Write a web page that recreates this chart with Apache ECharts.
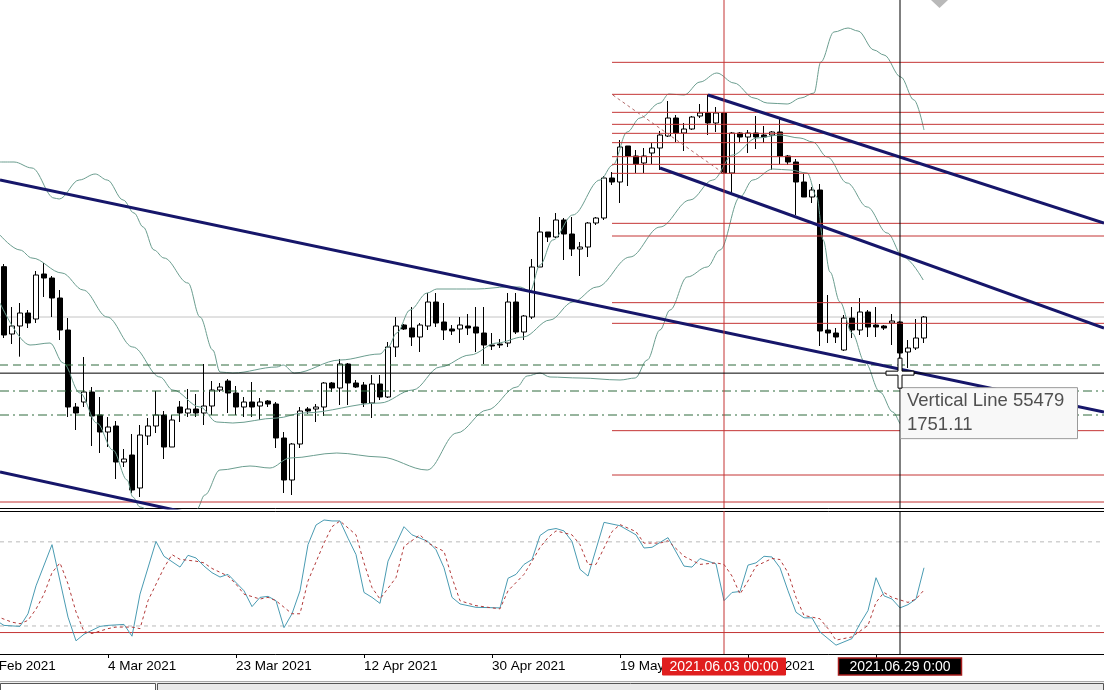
<!DOCTYPE html>
<html><head><meta charset="utf-8">
<script src="https://cdn.jsdelivr.net/npm/echarts@6/dist/echarts.min.js"></script>
<style>html,body{margin:0;padding:0;background:#fff;overflow:hidden}#chart{width:1104px;height:690px}</style>
</head><body><div id="chart"></div>
<script>
// ---------- DATA ----------
const dates = ['2021-02-17','2021-02-18','2021-02-19','2021-02-21','2021-02-22','2021-02-23','2021-02-24','2021-02-25','2021-02-26','2021-02-28',
'2021-03-01','2021-03-02','2021-03-03','2021-03-04','2021-03-05','2021-03-07','2021-03-08','2021-03-09','2021-03-10','2021-03-11','2021-03-12','2021-03-14','2021-03-15','2021-03-16','2021-03-17','2021-03-18','2021-03-19','2021-03-21','2021-03-22','2021-03-23','2021-03-24','2021-03-25','2021-03-26','2021-03-28','2021-03-29','2021-03-30','2021-03-31',
'2021-04-01','2021-04-04','2021-04-05','2021-04-06','2021-04-07','2021-04-08','2021-04-09','2021-04-11','2021-04-12','2021-04-13','2021-04-14','2021-04-15','2021-04-16','2021-04-18','2021-04-19','2021-04-20','2021-04-21','2021-04-22','2021-04-23','2021-04-25','2021-04-26','2021-04-27','2021-04-28','2021-04-29','2021-04-30',
'2021-05-02','2021-05-03','2021-05-04','2021-05-05','2021-05-06','2021-05-07','2021-05-09','2021-05-10','2021-05-11','2021-05-12','2021-05-13','2021-05-14','2021-05-16','2021-05-17','2021-05-18','2021-05-19','2021-05-20','2021-05-21','2021-05-23','2021-05-24','2021-05-25','2021-05-26','2021-05-27','2021-05-28','2021-05-30','2021-05-31',
'2021-06-01','2021-06-02','2021-06-03','2021-06-04','2021-06-06','2021-06-07','2021-06-08','2021-06-09','2021-06-10','2021-06-11','2021-06-13','2021-06-14','2021-06-15','2021-06-16','2021-06-17','2021-06-18','2021-06-20','2021-06-21','2021-06-22','2021-06-23','2021-06-24','2021-06-25','2021-06-27','2021-06-28','2021-06-29','2021-06-30',
'2021-07-01','2021-07-02','2021-07-04','2021-07-05','2021-07-06','2021-07-07','2021-07-08','2021-07-09','2021-07-11','2021-07-12','2021-07-13','2021-07-14','2021-07-15','2021-07-16','2021-07-18','2021-07-19','2021-07-20','2021-07-21','2021-07-22','2021-07-23','2021-07-25','2021-07-26','2021-07-27','2021-07-28'];

// [open, close, low, high]
const ohlc = [
[1815.0,1774.0,1772.2,1816.6],[1774.6,1779.4,1768.6,1790.8],[1779.4,1787.2,1761.0,1793.2],[1787.2,1781.2,1778.2,1789.0],[1783.6,1810.0,1781.2,1812.4],
[1810.6,1808.2,1796.8,1817.2],[1808.2,1796.2,1784.8,1809.4],[1796.2,1777.0,1771.0,1801.0],[1777.0,1730.8,1724.8,1784.2],[1730.8,1727.2,1717.0,1733.2],
[1733.8,1739.8,1730.8,1760.8],[1739.8,1725.4,1707.4,1742.8],[1726.0,1715.8,1703.2,1736.8],[1715.8,1718.8,1706.8,1724.8],[1719.4,1697.8,1687.6,1722.4],
[1697.8,1699.6,1694.8,1705.6],[1702.0,1681.0,1679.2,1714.6],[1682.2,1714.0,1676.8,1720.0],[1713.4,1719.4,1708.0,1724.2],[1719.4,1726.0,1715.2,1740.4],
[1726.0,1706.8,1699.6,1728.4],[1706.8,1723.0,1706.8,1726.0],[1730.8,1727.2,1721.8,1734.4],[1727.2,1729.6,1724.8,1741.6],[1729.6,1727.2,1724.8,1738.6],
[1727.2,1731.4,1720.0,1756.6],[1731.4,1741.0,1726.0,1746.4],[1741.0,1742.8,1739.8,1745.2],[1746.4,1739.2,1727.2,1747.6],[1739.2,1730.8,1726.0,1743.4],
[1730.8,1733.8,1724.8,1736.8],[1733.8,1730.8,1724.8,1745.8],[1731.4,1733.8,1723.0,1736.2],[1734.4,1732.6,1730.8,1735.0],[1732.6,1712.2,1706.2,1733.8],
[1712.2,1687.0,1679.2,1715.8],[1687.0,1708.6,1678.0,1709.2],[1708.6,1728.4,1706.2,1730.8],[1729.6,1728.4,1726.6,1730.8],[1729.6,1730.8,1721.8,1732.6],
[1730.8,1745.2,1725.4,1745.8],[1745.2,1742.2,1739.8,1745.8],[1742.2,1756.6,1732.0,1759.6],[1756.6,1745.2,1732.0,1757.2],[1745.2,1742.8,1742.2,1747.0],
[1744.0,1733.2,1730.8,1745.8],[1733.2,1744.6,1724.2,1750.0],[1744.6,1736.8,1735.0,1750.0],[1736.8,1766.8,1736.2,1769.8],[1766.8,1779.4,1760.8,1784.8],
[1780.0,1777.6,1777.0,1780.6],[1778.2,1772.8,1767.4,1790.8],[1772.8,1780.0,1763.8,1781.2],[1779.4,1793.8,1777.0,1799.2],[1793.8,1781.2,1778.8,1799.2],
[1781.8,1777.0,1771.0,1793.2],[1777.6,1776.4,1774.0,1780.0],[1777.6,1780.0,1769.2,1784.8],[1779.4,1778.2,1774.0,1786.6],[1778.8,1775.2,1763.8,1790.8],
[1775.2,1768.0,1756.6,1790.8],[1768.0,1767.4,1765.0,1775.2],[1768.6,1768.0,1766.2,1771.6],[1769.2,1793.8,1766.8,1799.2],[1793.8,1775.8,1774.6,1799.2],
[1775.8,1785.4,1771.0,1786.0],[1784.8,1814.8,1783.6,1819.6],[1814.8,1835.8,1814.8,1844.8],[1835.8,1832.8,1829.8,1835.8],[1832.8,1843.0,1832.2,1847.2],
[1843.0,1834.6,1819.0,1844.2],[1834.6,1825.6,1821.4,1844.8],[1825.6,1826.8,1809.4,1829.8],[1826.8,1841.2,1820.8,1841.8],[1841.2,1844.2,1840.0,1844.8],
[1844.2,1868.2,1843.0,1869.4],[1868.2,1865.8,1864.0,1871.8],[1865.8,1886.8,1853.2,1891.0],[1887.4,1881.4,1863.4,1887.4],[1881.4,1876.6,1871.2,1885.0],
[1877.2,1881.4,1871.2,1886.2],[1883.2,1886.2,1876.6,1889.2],[1886.2,1894.0,1873.0,1896.4],[1893.4,1904.2,1892.8,1914.4],[1904.2,1895.2,1889.8,1906.0],
[1895.2,1897.6,1884.4,1901.2],[1897.6,1904.8,1897.0,1905.4],[1905.4,1907.2,1904.2,1912.6],[1907.2,1901.2,1894.0,1918.6],[1901.2,1907.2,1895.8,1910.8],
[1907.2,1871.2,1870.6,1907.8],[1871.2,1895.2,1859.2,1895.8],[1895.2,1892.8,1889.8,1895.8],[1892.8,1895.2,1883.2,1897.0],[1895.2,1892.8,1885.6,1905.4],
[1894.0,1892.8,1889.2,1899.4],[1894.0,1895.8,1873.0,1896.4],[1895.8,1881.4,1876.6,1904.2],[1881.4,1877.8,1876.0,1882.0],[1877.8,1865.8,1846.0,1879.6],
[1865.8,1856.8,1856.8,1870.6],[1856.8,1861.0,1853.2,1862.8],[1861.0,1776.4,1767.4,1864.6],[1777.0,1775.2,1769.2,1798.0],[1775.2,1772.8,1769.2,1778.2],
[1765.0,1784.2,1764.4,1786.0],[1784.2,1777.0,1772.2,1790.8],[1777.0,1787.8,1774.0,1796.2],[1787.8,1778.8,1772.8,1789.0],[1780.0,1778.8,1772.8,1790.8],
[1779.4,1778.2,1777.0,1780.0],[1781.2,1782.4,1768.0,1786.6],[1781.8,1763.2,1750.6,1782.4],[1763.8,1766.2,1754.2,1771.0],[1766.2,1772.2,1765.0,1783.6],
[1772.2,1784.8,1769.2,1785.4]];

// Bollinger bands: [bar index, price]
const bbUpper = [[-0.5,1877.8],[1.25,1877.8],[3.5,1874.2],[6.25,1856.2],[6.9,1855.6],[9.4,1867.0],[11.4,1870.6],[12.9,1867.0],[14.9,1855.0],[16.25,1847.2],[17.4,1838.8],[18.75,1825.0],[20,1820.2],[23,1805.2],[24.5,1784.8],[26.1,1765.0],[27,1751.8],[28.6,1751.2],[34.1,1754.8],[34.9,1756.0],[36.3,1751.2],[42,1759.0],[47,1762.6],[48,1766.8],[49.1,1775.2],[50.75,1789.0],[52.9,1799.2],[54.1,1801.6],[59.1,1801.6],[62.9,1802.8],[64.5,1802.8],[65.75,1800.4],[67,1816.0],[68.6,1831.0],[71.1,1846.0],[74.5,1867.0],[76.1,1876.0],[77.9,1895.8],[79.5,1904.2],[82,1913.2],[83.1,1918.6],[85,1918.0],[87,1925.8],[89.1,1931.2],[91.25,1925.2],[93.75,1916.2],[95.4,1913.2],[97.9,1912.6],[99.6,1916.2],[101.25,1919.2],[102.1,1937.8],[103.75,1955.8],[105.5,1958.2],[106.75,1956.4],[108.75,1945.0],[110,1942.0],[112.1,1928.8],[113.75,1915.0],[115,1897.0]];
const bbMiddle = [[-0.5,1834.0],[2,1825.0],[3.5,1820.2],[7.25,1811.2],[9.9,1801.0],[12.9,1784.8],[16.1,1766.8],[19.5,1748.8],[21.1,1741.0],[24.5,1730.8],[26.6,1721.8],[28.6,1721.2],[34.1,1724.2],[37.4,1727.2],[47,1733.2],[51.1,1741.0],[54.5,1754.8],[58.25,1762.0],[61.6,1769.2],[64.9,1772.8],[68.25,1783.0],[71.1,1793.8],[74.1,1802.8],[78.25,1820.8],[82,1838.8],[85.75,1855.0],[88.6,1867.0],[91.1,1882.0],[94.1,1892.2],[97,1894.0],[99.5,1892.2],[101.1,1889.8],[102.9,1880.8],[105.4,1865.2],[107.9,1850.8],[110.4,1835.2],[112.4,1820.8],[114.9,1807.0]];
const bbLower = [[-0.5,1793.2],[3.25,1768.0],[5.75,1769.2],[7.4,1757.2],[9.5,1739.2],[11.6,1721.2],[13.6,1705.0],[15.4,1687.0],[16.1,1676.8],[17,1670.8],[19,1666],[21.5,1664],[23.5,1667],[24.1,1669.4],[25.1,1678],[27,1693],[30.75,1695.4],[33.25,1694.2],[35.75,1700.2],[41.6,1703.2],[47,1700.8],[52.9,1693.0],[56.6,1715.2],[60.4,1729.0],[64.1,1742.8],[65.4,1749.4],[67,1751.2],[68.25,1748.8],[72,1748.2],[77,1747.0],[78.9,1748.2],[80.4,1759.0],[82,1777.0],[83.25,1789.0],[85.4,1808.8],[87.9,1814.8],[89.5,1825.0],[92,1856.8],[93.6,1867.0],[96.1,1873.6],[98.25,1873.0],[100.4,1871.2],[101.6,1856.8],[102.4,1831.0],[103.25,1811.8],[104.5,1793.8],[106,1775.2],[107.6,1757.8],[109.5,1739.8],[111.1,1727.8],[112.25,1720.0],[115,1716]];

// Trend lines: two anchor points each [bar index, price]
const trendLines = [
  [[-0.5,1867.0],[137.5,1727.8]],
  [[-0.5,1691.8],[36.9,1652.8]],
  [[88,1918.0],[137.5,1841.2]],
  [[82,1874.2],[137.5,1778.2]]
];
const fibDiagonal = [[76.1,1918.0],[89.9,1871.2]];
const fibStartBar = 76;
const fibLevels = [1937.6,1918.4,1907.6,1900.4,1895.0,1889.4,1881.0,1876.4,1871.0,1841.0,1833.4,1793.4,1781.0,1716.6,1690.0];
const redLevels = [1673.8];
const dashedGreenLevels = [1756.0];
const dashDotGreenLevels = [1740.4,1726.0];
const bidPrice = 1784.8;

// Stochastic oscillator: [bar index, value]
const stochMain = [[-1,24],[0,20.4],[2,19.7],[3,28.7],[4,48.6],[6,78],[8,26.3],[9,9.4],[10,14.1],[12,19.7],[13,20.4],[15,21.1],[16,12.7],[17,42.7],[19,80.3],[20,69.7],[22,62],[23,70.4],[24,68.5],[25,62.7],[26,58],[27,54.9],[28,56.8],[30,45.1],[31,33.8],[32,40.4],[33,41.1],[34,38],[35,18.8],[36,28.7],[37,45.1],[38,78],[39,92],[40,95.6],[41,94.9],[42,94.9],[43,82.6],[44,70.9],[45,43.9],[46,40.4],[47,36.1],[48,66.2],[50,90.8],[51,85],[53,80.3],[54,74.4],[55,61.5],[56,40.4],[57,35.7],[59,33.3],[62,32.9],[63,54],[64,56.8],[65,63.9],[66,67.4],[67,84.5],[68,88.5],[69,89.5],[70,87.8],[71,80.3],[72,60.4],[73,55.6],[75,93.9],[77,91.5],[79,85],[80,75.6],[81,76.1],[83,83],[85,62.7],[86,62],[87,68.1],[89,64.3],[90,38],[91,43.9],[92,44.6],[93,63.4],[94,65],[95,69.7],[96,69.2],[97,61.5],[98,45.1],[99,29.8],[100,25.8],[101,25.8],[102,15.7],[104,6.3],[106,11],[107,21.6],[108,31],[109,54.4],[110,41.5],[111,39.2],[112,32.9],[113,35.2],[114,39.2],[115,61.5]];
const stochSignal = [[-1,27],[1,22.7],[2,21.6],[3,24],[4,32],[5,42.7],[6,58],[7,65],[8,50],[9,30],[10,16],[11,14.6],[13,18.1],[14,19.2],[16,19.2],[17,18.1],[18,38],[20,61.5],[21,70.9],[22,67.5],[24,66.2],[25,65],[26,61],[28,55.6],[29,49.8],[30,42.7],[32,39.2],[33,40.4],[34,38],[36,28.7],[37,28.7],[38,52.1],[40,79.1],[41,90.8],[42,94.9],[44,85],[45,65],[46,47.4],[47,39.2],[49,54.5],[50,76.8],[52,85],[53,79.1],[55,73.2],[56,54.5],[57,38],[59,34.5],[61,32.9],[62,32.2],[63,45.1],[65,56.8],[66,66.2],[67,76],[68,83],[69,87.8],[71,85],[72,78],[73,63.9],[74,63.9],[76,87.3],[77,92.3],[79,87.3],[80,79.1],[82,79.1],[83,80.8],[85,69.7],[87,63.9],[89,65],[90,63.9],[91,55.6],[92,42.7],[93,52.1],[94,62.7],[96,68.1],[97,67.4],[98,58],[99,40.4],[100,27.5],[102,25.1],[103,18.1],[104,9.9],[106,12.2],[108,20.4],[109,36.8],[110,43.9],[111,40.4],[113,36.8],[114,39.2],[115,45.6]];
const stochLevels = [80, 20];
const stochRedLevel = 15.3;

// Markers and labels
const redLineDate = '2021-06-03';
const cursorDate = '2021-06-29';
const cursorPrice = 1751.11;
const redBoxText = '2021.06.03 00:00';
const cursorBoxText = '2021.06.29 0:00';
const tooltipLines = ['Vertical Line 55479', '1751.11'];
const tickDates = ['2021-03-04','2021-03-23','2021-04-12','2021-04-30','2021-05-19','2021-06-07','2021-06-25'];
const tickLabels = ['4 Mar 2021','23 Mar 2021','12 Apr 2021','30 Apr 2021','19 May 2021','7 Jun 2021','25 Jun 2021'];
const leadLabel = { text: '14 Feb 2021', barsBeforeFirst: 3 };

// ---------- CHART ----------
const X0 = -0.5, X1 = dates.length - 0.5;
const YMIN = 1670.2, YMAX = 1975;
const SMIN = 0, SMAX = 102;
const FONT = '"Liberation Sans", Arial, sans-serif';
const RED = '#c43535', NAVY = '#16166a', BB = '#6b9d8f', GREEN = '#2f6b3c';

const chart = echarts.init(document.getElementById('chart'), null, {renderer: 'canvas'});

function seg(data, style, xi, yi, z) {
  return {type: 'line', xAxisIndex: xi, yAxisIndex: yi, data: data, symbol: 'none', showSymbol: false,
    silent: true, animation: false, clip: true, lineStyle: style, z: z || 4};
}
const series = [];
series.push({type: 'candlestick', xAxisIndex: 0, yAxisIndex: 0, data: ohlc, barWidth: 5, z: 2, silent: true,
  itemStyle: {color: '#ffffff', color0: '#000000', borderColor: '#000000', borderColor0: '#000000', borderColorDoji: '#000000', borderWidth: 1}});
series.push(seg([[X0, bidPrice], [X1, bidPrice]], {color: '#c4c4c4', width: 1}, 2, 0, 1));
[bbUpper, bbMiddle, bbLower].forEach(b => {
  const s = seg(b, {color: BB, width: 1}, 2, 0, 3); s.smooth = 0.35; s.smoothMonotone = 'x'; series.push(s);
});
dashedGreenLevels.forEach(v => series.push(seg([[X0, v], [X1, v]], {color: GREEN, width: 1, type: [8, 5]}, 2, 0, 3)));
dashDotGreenLevels.forEach(v => series.push(seg([[X0, v], [X1, v]], {color: GREEN, width: 1, type: [9, 4, 2, 4]}, 2, 0, 3)));
fibLevels.forEach(v => series.push(seg([[fibStartBar, v], [X1, v]], {color: RED, width: 1}, 2, 0, 4)));
redLevels.forEach(v => series.push(seg([[X0, v], [X1, v]], {color: RED, width: 1}, 2, 0, 4)));
series.push(seg(fibDiagonal, {color: '#b36a6a', width: 1, type: [3, 3]}, 2, 0, 4));
trendLines.forEach(t => series.push(seg(t, {color: NAVY, width: 3}, 2, 0, 5)));
const redIdx = dates.indexOf(redLineDate), curIdx = dates.indexOf(cursorDate);
series.push(seg([[redIdx, YMIN], [redIdx, YMAX]], {color: RED, width: 1}, 2, 0, 6));
series.push(seg([[curIdx, YMIN], [curIdx, YMAX]], {color: '#000', width: 1}, 2, 0, 6));
series.push(seg([[X0, cursorPrice], [X1, cursorPrice]], {color: '#000', width: 1}, 2, 0, 6));
// stochastic window
stochLevels.forEach(v => series.push(seg([[X0, v], [X1, v]], {color: '#b9b9b9', width: 1, type: [4, 4]}, 3, 1, 2)));
series.push(seg([[X0, stochRedLevel], [X1, stochRedLevel]], {color: RED, width: 1}, 3, 1, 2));
series.push(seg(stochMain, {color: '#4a9bb2', width: 1}, 3, 1, 4));
series.push(seg(stochSignal, {color: '#b23a3a', width: 1, type: [3, 3]}, 3, 1, 4));
series.push(seg([[redIdx, SMIN], [redIdx, SMAX]], {color: RED, width: 1}, 3, 1, 6));
series.push(seg([[curIdx, SMIN], [curIdx, SMAX]], {color: '#000', width: 1}, 3, 1, 6));

const isTick = (i, v) => tickDates.indexOf(v) >= 0;

chart.setOption({
  animation: false,
  backgroundColor: '#ffffff',
  textStyle: {fontFamily: FONT},
  grid: [
    {left: 0, right: 0, top: 0, height: 508, outerBoundsMode: 'none', containLabel: false},
    {left: 0, right: 0, top: 511, height: 143, outerBoundsMode: 'none', containLabel: false}
  ],
  xAxis: [
    {type: 'category', gridIndex: 0, data: dates, boundaryGap: true,
     axisLine: {show: true, onZero: false, lineStyle: {color: '#000', width: 1}},
     axisTick: {show: false}, axisLabel: {show: false}, splitLine: {show: false}},
    {type: 'category', gridIndex: 1, data: dates, boundaryGap: true, position: 'bottom',
     axisLine: {show: true, onZero: false, lineStyle: {color: '#000', width: 1}},
     axisTick: {show: true, interval: isTick, alignWithLabel: true, length: 4, lineStyle: {color: '#000'}},
     axisLabel: {show: true, interval: isTick, align: 'left', margin: 5, color: '#000', fontSize: 13.5, fontFamily: FONT,
       formatter: v => tickLabels[tickDates.indexOf(v)] || ''},
     splitLine: {show: false}},
    {type: 'value', gridIndex: 0, min: X0, max: X1, show: false},
    {type: 'value', gridIndex: 1, min: X0, max: X1, show: true, position: 'top',
     axisLine: {show: true, onZero: false, lineStyle: {color: '#000', width: 1}},
     axisTick: {show: false}, axisLabel: {show: false}, splitLine: {show: false}}
  ],
  yAxis: [
    {type: 'value', gridIndex: 0, min: YMIN, max: YMAX, show: false, splitLine: {show: false}},
    {type: 'value', gridIndex: 1, min: SMIN, max: SMAX, show: false, splitLine: {show: false}}
  ],
  series: series
});

// ---------- annotations positioned through the axes ----------
const px = i => chart.convertToPixel({xAxisIndex: 3}, i);
const py = v => chart.convertToPixel({yAxisIndex: 0}, v);
const axisY = chart.convertToPixel({yAxisIndex: 1}, SMIN);
const xRed = px(redIdx), xCur = px(curIdx), yCur = py(cursorPrice);
const boxW = 123, boxH = 17, boxTop = axisY + 4;
function txt(x, y, text, size, fill, align, valign) {
  return {type: 'text', x: x, y: y, z: 100, silent: true,
    style: {text: text, font: size + 'px ' + FONT, fill: fill, align: align, textAlign: align,
      verticalAlign: valign, textVerticalAlign: valign}};
}
const hx = 14, vy = 15, t = 2;
const plus = [[xCur - t, yCur - vy], [xCur + t, yCur - vy], [xCur + t, yCur - t], [xCur + hx, yCur - t], [xCur + hx, yCur + t], [xCur + t, yCur + t],
  [xCur + t, yCur + vy], [xCur - t, yCur + vy], [xCur - t, yCur + t], [xCur - hx, yCur + t], [xCur - hx, yCur - t], [xCur - t, yCur - t]];
const tipTop = yCur + 14;
chart.setOption({graphic: {elements: [
  txt(px(-leadLabel.barsBeforeFirst), axisY + 5, leadLabel.text, 13.5, '#000', 'left', 'top'),
  {type: 'rect', z: 100, silent: true, shape: {x: xRed - boxW / 2, y: boxTop, width: boxW, height: boxH}, style: {fill: '#e01e1e', stroke: '#e01e1e'}},
  txt(xRed, boxTop + boxH / 2 + 0.5, redBoxText, 14, '#fff', 'center', 'middle'),
  {type: 'rect', z: 100, silent: true, shape: {x: xCur - boxW / 2, y: boxTop, width: boxW, height: boxH}, style: {fill: '#000', stroke: '#a51a1a', lineWidth: 1.5}},
  txt(xCur, boxTop + boxH / 2 + 0.5, cursorBoxText, 14, '#fff', 'center', 'middle'),
  {type: 'rect', z: 100, silent: true, shape: {x: xCur + 0.5, y: tipTop + 0.5, width: 177, height: 51}, style: {fill: '#f8f8f8', stroke: '#9a9a9a', lineWidth: 1}},
  txt(xCur + 7, tipTop + 14, tooltipLines[0], 18.5, '#505050', 'left', 'middle'),
  txt(xCur + 7, tipTop + 38, tooltipLines[1], 18.5, '#505050', 'left', 'middle'),
  {type: 'polygon', z: 101, silent: true, shape: {points: plus}, style: {fill: '#fff', stroke: '#000', lineWidth: 1}},
  {type: 'polygon', z: 100, silent: true, shape: {points: [[931, 0], [948, 0], [939.5, 8]]}, style: {fill: '#b9b9b9'}},
  {type: 'rect', z: 100, silent: true, shape: {x: 0, y: 681, width: 1104, height: 9}, style: {fill: '#efefef'}},
  {type: 'line', z: 100, silent: true, shape: {x1: 0, y1: 681.5, x2: 1104, y2: 681.5}, style: {stroke: '#a9a9a9', lineWidth: 1}},
  {type: 'rect', z: 101, silent: true, shape: {x: 0.5, y: 683.5, width: 155, height: 10}, style: {fill: '#fff', stroke: '#555', lineWidth: 1}},
  {type: 'rect', z: 101, silent: true, shape: {x: 157.5, y: 683.5, width: 946, height: 10}, style: {fill: '#e9e9e9', stroke: '#555', lineWidth: 1}}
]}});
</script>
</body></html>
